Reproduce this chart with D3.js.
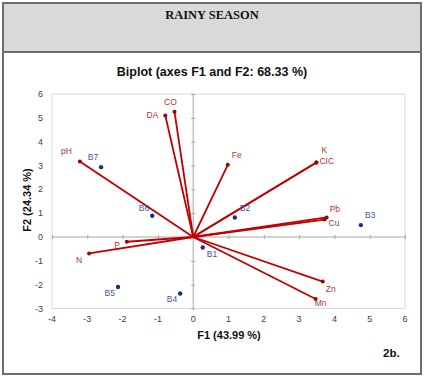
<!DOCTYPE html>
<html><head><meta charset="utf-8">
<script src="https://cdn.jsdelivr.net/npm/d3@7"></script>
<style>html,body{margin:0;padding:0;background:#fff;}</style>
</head><body>
<script>
const xTicks = [-4,-3,-2,-1,0,1,2,3,4,5,6];
const yTicks = [-3,-2,-1,0,1,2,3,4,5,6];
const varNames = ["CO","DA","pH","Fe","K","CIC","Pb","Cu","Zn","Mn","P","N"];
const varF1 = [-0.53,-0.79,-3.21,0.98,3.49,3.49,3.78,3.72,3.67,3.47,-1.88,-2.95];
const varF2 = [5.26,5.10,3.17,3.03,3.13,3.13,0.82,0.73,-1.87,-2.60,-0.20,-0.69];
const obsNames = ["B1","B2","B3","B4","B5","B6","B7"];
const obsF1 = [0.27,1.18,4.75,-0.37,-2.13,-1.16,-2.61];
const obsF2 = [-0.44,0.82,0.50,-2.37,-2.10,0.89,2.93];
// label offsets (dx, dy, anchor)
const varLab = {CO:[-4,-7,"middle"],DA:[-7,3,"end"],pH:[-8,-7,"end"],Fe:[4,-7,"start"],K:[5,-9,"start"],CIC:[3,2,"start"],
  Pb:[3,-5,"start"],Cu:[4,6,"start"],Zn:[3,10,"start"],Mn:[-1,7,"start"],P:[-7,6,"end"],N:[-7,10,"end"]};
const obsLab = {B1:[4,10,"start"],B2:[5,-6,"start"],B3:[4,-7,"start"],B4:[-3,9,"end"],B5:[-3,9,"end"],B6:[-3,-5,"end"],B7:[-8,-7,"middle"]};

const W=425,H=378;
const svg=d3.select("body").append("svg").attr("width",W).attr("height",H);
svg.append("rect").attr("x",3).attr("y",3).attr("width",418).attr("height",49).attr("fill","#d9d9d9");
svg.append("rect").attr("x",3).attr("y",3).attr("width",418).attr("height",371).attr("fill","none").attr("stroke","#6d6d6d").attr("stroke-width",2);
svg.append("line").attr("x1",3).attr("x2",421).attr("y1",52).attr("y2",52).attr("stroke","#6d6d6d").attr("stroke-width",2);
svg.append("text").attr("x",212).attr("y",19).attr("text-anchor","middle").attr("font-family","Liberation Serif").attr("font-weight","bold").attr("font-size",12.5).attr("fill","#111").text("RAINY SEASON");
svg.append("text").attr("x",212).attr("y",76).attr("text-anchor","middle").attr("font-family","Liberation Sans").attr("font-weight","bold").attr("font-size",12.5).attr("fill","#111").text("Biplot (axes F1 and F2: 68.33 %)");

const x=d3.scaleLinear().domain([-4,6]).range([52,405]);
const y=d3.scaleLinear().domain([-3,6]).range([308.5,94]);
svg.append("rect").attr("x",x(-4)).attr("y",y(6)).attr("width",x(6)-x(-4)).attr("height",y(-3)-y(6)).attr("fill","none").attr("stroke","#d9d9d9").attr("stroke-width",1);
const axCol="#a6a6a6";
const gx=svg.append("g").attr("transform",`translate(0,${y(0)})`).call(d3.axisBottom(x).tickValues(xTicks).tickSize(4).tickFormat(""));
gx.selectAll("line").attr("stroke",axCol).attr("transform","translate(0,-2)");
gx.select(".domain").remove();
svg.append("line").attr("x1",x(-4)).attr("x2",x(6)).attr("y1",y(0)).attr("y2",y(0)).attr("stroke",axCol);
const gy=svg.append("g").attr("transform",`translate(${x(0)},0)`).call(d3.axisLeft(y).tickValues(yTicks).tickSize(4).tickFormat(""));
gy.selectAll("line").attr("stroke",axCol).attr("transform","translate(2,0)");
gy.select(".domain").remove();
svg.append("line").attr("x1",x(0)).attr("x2",x(0)).attr("y1",y(-3)).attr("y2",y(6)).attr("stroke",axCol);
svg.append("g").selectAll("text").data(xTicks).join("text").attr("x",d=>x(d)).attr("y",322).attr("text-anchor","middle")
  .attr("font-family","Liberation Sans").attr("font-size",9).attr("fill","#404040").text(d=>d);
svg.append("g").selectAll("text").data(yTicks).join("text").attr("x",43).attr("y",d=>y(d)+3).attr("text-anchor","end")
  .attr("font-family","Liberation Sans").attr("font-size",9).attr("fill","#404040").text(d=>d);
svg.append("text").attr("x",229).attr("y",339).attr("text-anchor","middle").attr("font-family","Liberation Sans").attr("font-weight","bold").attr("font-size",11).attr("fill","#111").text("F1 (43.99 %)");
svg.append("text").attr("transform","translate(31,200) rotate(-90)").attr("text-anchor","middle").attr("font-family","Liberation Sans").attr("font-weight","bold").attr("font-size",11).attr("fill","#111").text("F2 (24.34 %)");
svg.append("text").attr("x",383).attr("y",357).attr("font-family","Liberation Sans").attr("font-weight","bold").attr("font-size",11.5).attr("fill","#111").text("2b.");

const vars=varNames.map((n,i)=>({n,a:varF1[i],b:varF2[i]}));
const vc="#c00000";
svg.append("g").selectAll("line").data(vars).join("line").attr("x1",x(0)).attr("y1",y(0)).attr("x2",d=>x(d.a)).attr("y2",d=>y(d.b))
  .attr("stroke",vc).attr("stroke-width",1.8);
svg.append("g").selectAll("circle").data(vars).join("circle").attr("cx",d=>x(d.a)).attr("cy",d=>y(d.b)).attr("r",2).attr("fill","#a00000");
svg.append("g").selectAll("text").data(vars).join("text").attr("x",d=>x(d.a)+varLab[d.n][0]).attr("y",d=>y(d.b)+varLab[d.n][1])
  .attr("text-anchor",d=>varLab[d.n][2]).attr("font-family","Liberation Sans").attr("font-size",8.5).attr("fill","#b03434").text(d=>d.n);
const obs=obsNames.map((n,i)=>({n,a:obsF1[i],b:obsF2[i]}));
svg.append("g").selectAll("circle").data(obs).join("circle").attr("cx",d=>x(d.a)).attr("cy",d=>y(d.b)).attr("r",2.2).attr("fill","#1f2f80");
svg.append("g").selectAll("text").data(obs).join("text").attr("x",d=>x(d.a)+obsLab[d.n][0]).attr("y",d=>y(d.b)+obsLab[d.n][1])
  .attr("text-anchor",d=>obsLab[d.n][2]).attr("font-family","Liberation Sans").attr("font-size",8.5).attr("fill","#3a5a9a").text(d=>d.n);
</script>
</body></html>
